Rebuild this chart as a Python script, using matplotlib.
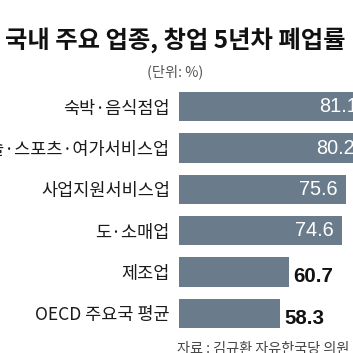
import matplotlib
matplotlib.use('Agg')
import matplotlib.pyplot as plt

# 데이터
categories = ['숙박·음식점업', '예술·스포츠·여가서비스업', '사업지원서비스업',
              '도·소매업', '제조업', 'OECD 주요국 평균']
values = [81.1, 80.2, 75.6, 74.6, 60.7, 58.3]

title = '국내 주요 업종, 창업 5년차 폐업률'
unit = '(단위: %)'
source = '자료 : 김규환 자유한국당 의원'

kr = ['Noto Sans CJK KR', 'DejaVu Sans']
num = ['Liberation Sans Narrow', 'Liberation Sans', 'DejaVu Sans']
bar_color = '#6a7c8b'

fig = plt.figure(figsize=(3.53, 3.53), dpi=100)
fig.patch.set_facecolor('white')

# 축 (막대 시작점이 0이 아닌 잘린 축)
ax = fig.add_axes([179 / 353, 1 - 334 / 353, 1 - 179 / 353, 248 / 353])
y = list(range(len(categories)))
ax.barh(y, values, height=0.714, color=bar_color)
ax.set_xlim(31.8, 77.5)
ax.set_ylim(len(categories) - 0.5, -0.5)

ax.set_yticks(y, categories, family=kr, fontsize=12.6, color='#1a1a1a')
ax.tick_params(axis='y', length=0, pad=6.5)
ax.set_xticks([])
for s in ax.spines.values():
    s.set_visible(False)

# 값 라벨
for i, v in enumerate(values):
    if v > 70:
        ax.annotate(f'{v:.1f}', xy=(v, i), xytext=(-6, 0), textcoords='offset points',
                    ha='right', va='center', color='white', family=num, fontsize=14.3,
                    annotation_clip=False)
    else:
        ax.annotate(f'{v:.1f}', xy=(v, i), xytext=(3, -3.5), textcoords='offset points',
                    ha='left', va='center', color='#111111', family=num, fontsize=14.8,
                    fontweight='bold', annotation_clip=False)

# 제목, 단위, 출처
fig.text(0.497, 1 - 40 / 353, title, ha='center', va='center', family=kr,
         fontsize=17.5, fontweight='bold', color='#111111')
fig.text(0.496, 1 - 72 / 353, unit, ha='center', va='center', family=kr,
         fontsize=10.3, color='#555555')
fig.text(177 / 353, 1 - 349 / 353, source, ha='left', va='center', family=kr,
         fontsize=10.2, color='#444444')

fig.savefig('out.png', dpi=100)
